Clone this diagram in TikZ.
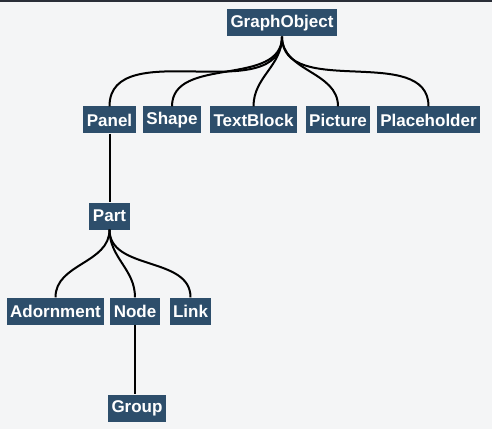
\documentclass[tikz,border=0pt]{standalone}
\usepackage{fontspec}
\setmainfont{Liberation Sans}
\usepackage{tikz}
\usetikzlibrary{positioning}
\definecolor{pslate}{HTML}{2D4E6B}
\definecolor{pbg}{HTML}{F4F5F6}
\definecolor{pbar}{HTML}{2A2E38}
\tikzset{
  % dark class box with white bold label
  cls/.style  = {rectangle, fill=pslate, text=white, inner xsep=3.5pt, inner ysep=0pt,
                 minimum height=27pt, font=\fontsize{17}{17}\selectfont\bfseries},
  link/.style = {line width=2pt, black},
}

\begin{document}
\begin{tikzpicture}[x=1pt,y=1pt]
% page
\fill[pbg] (0,0) rectangle (492,429);
\fill[pbar] (0,427) rectangle (492,429);
\useasboundingbox (0,0) rectangle (492,429);
% root
\node[cls] (go) at (282,406) {GraphObject};
% first level
\node[cls] (panel)       at (109.5,309) {Panel};
\node[cls] (shape)       at (172,309)   {Shape};
\node[cls] (textblock)   at (253.5,309) {TextBlock};
\node[cls] (picture)     at (338,309)   {Picture};
\node[cls] (placeholder) at (428.5,309) {Placeholder};
% parts
\node[cls] (part)      at (109.5,213) {Part};
\node[cls] (adornment) at (55.5,118)  {Adornment};
\node[cls] (nodecls)   at (135,118)   {Node};
\node[cls] (linkcls)   at (190.5,118) {Link};
\node[cls] (group)     at (137,21)    {Group};
% connectors
\foreach \c in {panel,shape,textblock,picture,placeholder}
  \draw[link] (go.south) to[out=-90,in=90] (\c.north);
\draw[link] (panel.south) -- (part.north);
\foreach \c in {adornment,nodecls,linkcls}
  \draw[link] (part.south) to[out=-90,in=90] (\c.north);
\draw[link] (nodecls.south) -- (nodecls.south |- group.north);
\end{tikzpicture}
\end{document}
